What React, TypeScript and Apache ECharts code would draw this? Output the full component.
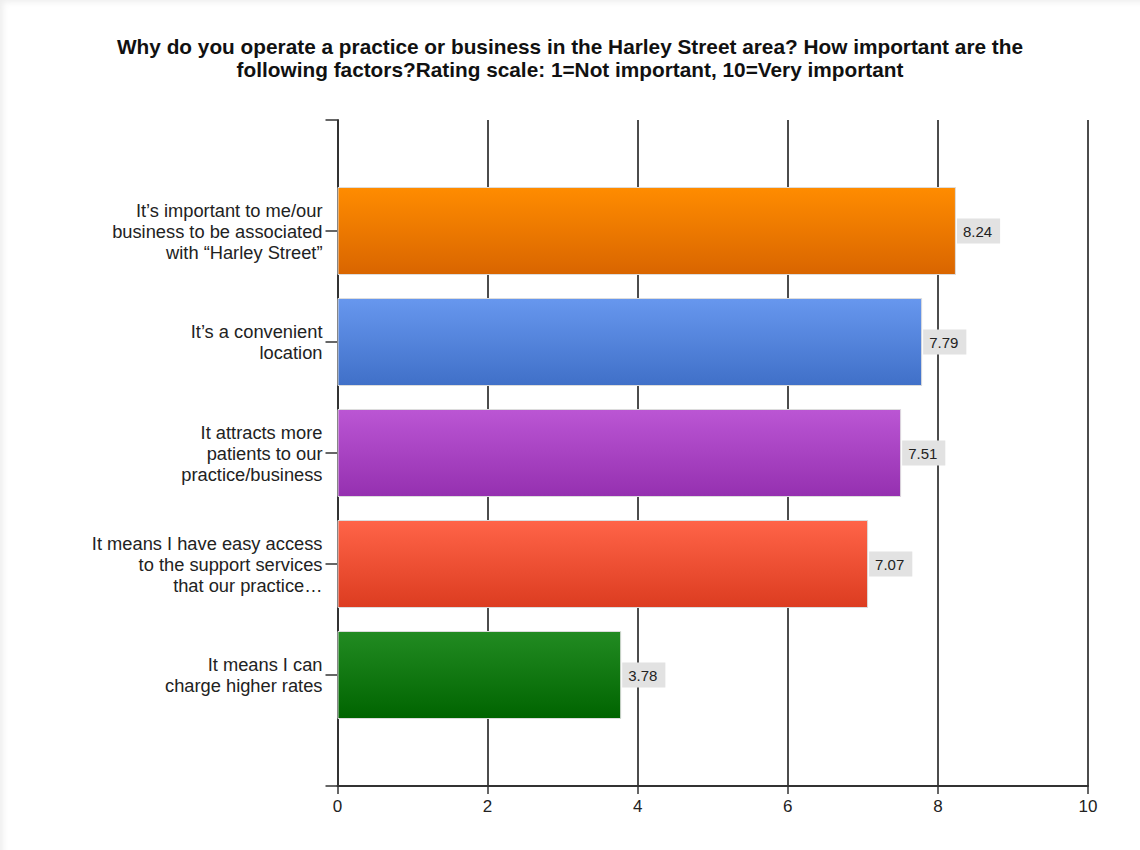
import React, { useEffect, useRef } from "react";
import * as echarts from "echarts";

const TITLE =
  "Why do you operate a practice or business in the Harley Street area? How important are the\nfollowing factors?Rating scale: 1=Not important, 10=Very important";

const categories = [
  "It’s important to me/our\nbusiness to be associated\nwith “Harley Street”",
  "It’s a convenient\nlocation",
  "It attracts more\npatients to our\npractice/business",
  "It means I have easy access\nto the support services\nthat our practice…",
  "It means I can\ncharge higher rates",
];

const values = [8.24, 7.79, 7.51, 7.07, 3.78];

const gradients = [
  ["#ff8c00", "#d96500"],
  ["#6797ee", "#4070c8"],
  ["#bb56d4", "#9530b0"],
  ["#ff6448", "#dc3c20"],
  ["#228b22", "#006400"],
];

const xTicks = { min: 0, max: 10, interval: 2 };

export default function App() {
  const ref = useRef<HTMLDivElement>(null);

  useEffect(() => {
    document.body.style.margin = "0";
    if (!ref.current) return;
    const chart = echarts.init(ref.current, undefined, { renderer: "svg" });

    const yData = ["", ...categories, ""];
    const seriesData: any[] = ["-"];
    values.forEach((v, i) => {
      seriesData.push({
        value: v,
        itemStyle: {
          color: new echarts.graphic.LinearGradient(0, 0, 0, 1, [
            { offset: 0, color: gradients[i][0] },
            { offset: 1, color: gradients[i][1] },
          ]),
        },
      });
    });
    seriesData.push("-");

    chart.setOption({
      animation: false,
      backgroundColor: "transparent",
      title: {
        text: TITLE,
        left: "center",
        top: 30,
        textStyle: {
          fontFamily: "Liberation Sans, Arial, sans-serif",
          fontSize: 20.8,
          fontWeight: "bold",
          color: "#111",
          lineHeight: 23,
        },
      },
      grid: { left: 337.5, right: 52, top: 120, bottom: 64, containLabel: false },
      xAxis: {
        type: "value",
        min: xTicks.min,
        max: xTicks.max,
        interval: xTicks.interval,
        axisLine: { show: true, lineStyle: { color: "#333", width: 2 } },
        axisTick: { show: true, length: 8, lineStyle: { color: "#333", width: 1.5 } },
        splitLine: { show: true, lineStyle: { color: "#111", width: 1.5 } },
        axisLabel: {
          fontFamily: "Liberation Sans, Arial, sans-serif",
          fontSize: 17,
          color: "#222",
          margin: 12,
        },
      },
      yAxis: {
        type: "category",
        inverse: true,
        boundaryGap: false,
        data: yData,
        axisLine: { show: true, lineStyle: { color: "#333", width: 2 } },
        axisTick: { show: true, length: 12, alignWithLabel: true, lineStyle: { color: "#333", width: 1.5 } },
        splitLine: { show: false },
        axisLabel: {
          fontFamily: "Liberation Sans, Arial, sans-serif",
          fontSize: 18.3,
          lineHeight: 21,
          color: "#222",
          margin: 15,
          align: "right",
        },
      },
      series: [
        {
          type: "bar",
          data: seriesData,
          barWidth: 88,
          itemStyle: { borderColor: "#dcdcdc", borderWidth: 1 },
          label: {
            show: true,
            position: "right",
            distance: 1,
            formatter: (p: any) => Number(p.value).toFixed(2),
            fontFamily: "Liberation Sans, Arial, sans-serif",
            fontSize: 15,
            color: "#222",
            backgroundColor: "#e2e2e2",
            padding: [5, 8, 5, 6],
          },
        },
      ],
    });

    return () => chart.dispose();
  }, []);

  return (
    <div
      style={{
        position: "relative",
        width: 1140,
        height: 850,
        background: "#fff",
        boxShadow: "inset 6px 5px 6px -3px rgba(0,0,0,0.07)",
      }}
    >
      <div ref={ref} style={{ position: "absolute", left: 0, top: 0, width: 1140, height: 850 }} />
    </div>
  );
}
